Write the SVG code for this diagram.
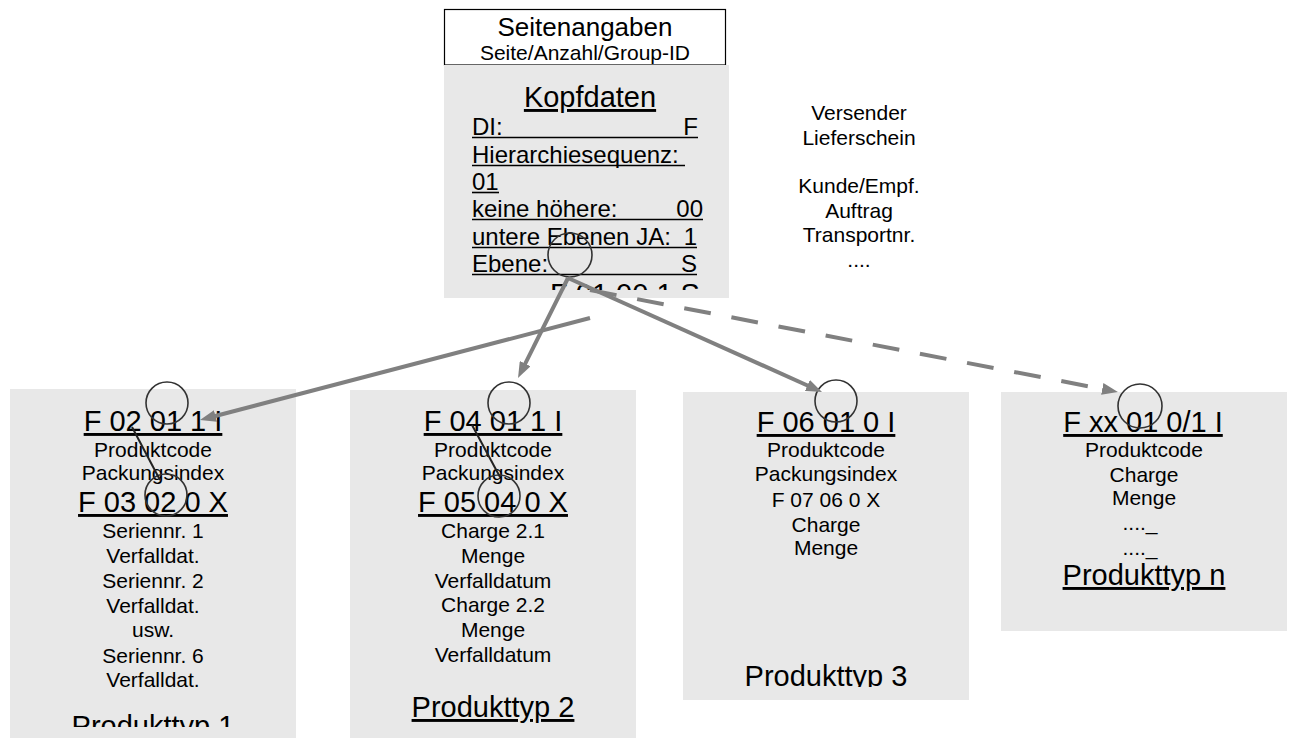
<svg xmlns="http://www.w3.org/2000/svg" width="1289" height="738" viewBox="0 0 1289 738">
<style>
text{font-family:"Liberation Sans",Arial,sans-serif;fill:#000}
.s{font-size:21px;text-anchor:middle}
.b{font-size:29px;text-anchor:middle}
.u{text-decoration:underline}
.k{font-size:24px}
.box{fill:#e8e8e8}
.ul{stroke:#000;stroke-width:1.6}
.ring{fill:none;stroke:#333;stroke-width:1.6}
.conn{stroke:#808080;stroke-width:4;fill:none}
.dash{stroke-dasharray:27 21}
.tick{stroke:#222;stroke-width:2}
</style>
<defs>
<marker id="ah" markerUnits="userSpaceOnUse" viewBox="0 0 16 12" markerWidth="16" markerHeight="12" refX="8" refY="6" orient="auto">
<path d="M0,0 L16,6 L0,12 z" fill="#808080"/>
</marker>
<clipPath id="ck"><rect x="444" y="65" width="285" height="225"/></clipPath>
<clipPath id="c1"><rect x="10" y="389" width="286" height="338"/></clipPath>
<clipPath id="c3"><rect x="683" y="392" width="286" height="295"/></clipPath>
</defs>
<rect width="1289" height="738" fill="#fff"/>

<g id="seitenangaben">
<rect x="444.5" y="9.5" width="281" height="55.5" fill="#fff" stroke="#000" stroke-width="1.2"/>
<text x="585" y="35.5" style="font-size:26px;text-anchor:middle">Seitenangaben</text>
<text x="585" y="60" class="s">Seite/Anzahl/Group-ID</text>
</g>

<g id="kopfdaten">
<rect class="box" x="444" y="65" width="285" height="233"/>
<g clip-path="url(#ck)">
<text x="590" y="107" class="b u">Kopfdaten</text>
<text x="472" y="135" class="k">DI:</text>
<text x="698" y="135" class="k" text-anchor="end">F</text>
<line class="ul" x1="472" y1="137.5" x2="698" y2="137.5"/>
<text x="472" y="163" class="k">Hierarchiesequenz:</text>
<line class="ul" x1="472" y1="165.5" x2="685" y2="165.5"/>
<text x="472" y="190" class="k">01</text>
<line class="ul" x1="472" y1="192.5" x2="499" y2="192.5"/>
<text x="472" y="217" class="k">keine höhere:</text>
<text x="703" y="217" class="k" text-anchor="end">00</text>
<line class="ul" x1="472" y1="219.5" x2="703" y2="219.5"/>
<text x="472" y="245" class="k">untere Ebenen JA:</text>
<text x="697" y="245" class="k" text-anchor="end">1</text>
<line class="ul" x1="472" y1="247.5" x2="697" y2="247.5"/>
<text x="472" y="272" class="k">Ebene:</text>
<text x="697" y="272" class="k" text-anchor="end">S</text>
<line class="ul" x1="472" y1="274.5" x2="697" y2="274.5"/>
<text x="550" y="304" style="font-size:29px">F 01 00 1 S</text>
</g>
<circle class="ring" cx="570" cy="255" r="22"/>
</g>

<g id="versender">
<text x="859" y="120" style="font-size:21px;text-anchor:middle">Versender</text>
<text x="859" y="145" class="s">Lieferschein</text>
<text x="859" y="193" class="s">Kunde/Empf.</text>
<text x="859" y="218" class="s">Auftrag</text>
<text x="859" y="242" class="s">Transportnr.</text>
<text x="859" y="267" class="s">....</text>
</g>

<g id="produkttyp1">
<rect class="box" x="10" y="389" width="286" height="349"/>
<g clip-path="url(#c1)">
<text x="153" y="431" class="b u">F 02 01 1 I</text>
<text x="153" y="457" class="s">Produktcode</text>
<text x="153" y="480" class="s">Packungsindex</text>
<text x="153" y="512" class="b u">F 03 02 0 X</text>
<text x="153" y="538" class="s">Seriennr. 1</text>
<text x="153" y="563" class="s">Verfalldat.</text>
<text x="153" y="588" class="s">Seriennr. 2</text>
<text x="153" y="613" class="s">Verfalldat.</text>
<text x="153" y="637" class="s">usw.</text>
<text x="153" y="663" class="s">Seriennr. 6</text>
<text x="153" y="687" class="s">Verfalldat.</text>
<text x="153" y="736" class="b">Produkttyp 1</text>
</g>
<circle class="ring" cx="167" cy="403" r="21"/>
<circle class="ring" cx="166" cy="495" r="21"/>
<line class="tick" x1="132" y1="427" x2="160" y2="480"/>
</g>

<g id="produkttyp2">
<rect class="box" x="350" y="390" width="286" height="348"/>
<text x="493" y="431" class="b u">F 04 01 1 I</text>
<text x="493" y="457" class="s">Produktcode</text>
<text x="493" y="480" class="s">Packungsindex</text>
<text x="493" y="512" class="b u">F 05 04 0 X</text>
<text x="493" y="538" class="s">Charge 2.1</text>
<text x="493" y="563" class="s">Menge</text>
<text x="493" y="588" class="s">Verfalldatum</text>
<text x="493" y="612" class="s">Charge 2.2</text>
<text x="493" y="637" class="s">Menge</text>
<text x="493" y="662" class="s">Verfalldatum</text>
<text x="493" y="717" class="b u">Produkttyp 2</text>
<circle class="ring" cx="509" cy="403" r="21"/>
<circle class="ring" cx="499" cy="496" r="21"/>
<line class="tick" x1="472" y1="425" x2="500" y2="477"/>
</g>

<g id="produkttyp3">
<rect class="box" x="683" y="392" width="286" height="308"/>
<g clip-path="url(#c3)">
<text x="826" y="432" class="b u">F 06 01 0 I</text>
<text x="826" y="457" class="s">Produktcode</text>
<text x="826" y="481" class="s">Packungsindex</text>
<text x="826" y="507" class="s">F 07 06 0 X</text>
<text x="826" y="532" class="s">Charge</text>
<text x="826" y="555" class="s">Menge</text>
<text x="826" y="686" class="b">Produkttyp 3</text>
</g>
<circle class="ring" cx="836" cy="401" r="21"/>
</g>

<g id="produkttypn">
<rect class="box" x="1001" y="392" width="286" height="239"/>
<text x="1143" y="432" class="b u">F xx 01 0/1 I</text>
<text x="1144" y="457" class="s">Produktcode</text>
<text x="1144" y="482" class="s">Charge</text>
<text x="1144" y="505" class="s">Menge</text>
<text x="1140" y="530" class="s">...._</text>
<text x="1140" y="555" class="s">...._</text>
<text x="1144" y="585" class="b u">Produkttyp n</text>
<circle class="ring" cx="1140" cy="406" r="22"/>
</g>

<g id="connectors">
<line class="conn" x1="590" y1="318" x2="207.7" y2="418" marker-end="url(#ah)"/>
<line class="conn" x1="568" y1="278" x2="521.6" y2="370.8" marker-end="url(#ah)"/>
<line class="conn" x1="568" y1="278" x2="814.7" y2="388.7" marker-end="url(#ah)"/>
<line class="conn dash" x1="590" y1="290" x2="1110.1" y2="390.5" marker-end="url(#ah)"/>
</g>
</svg>
